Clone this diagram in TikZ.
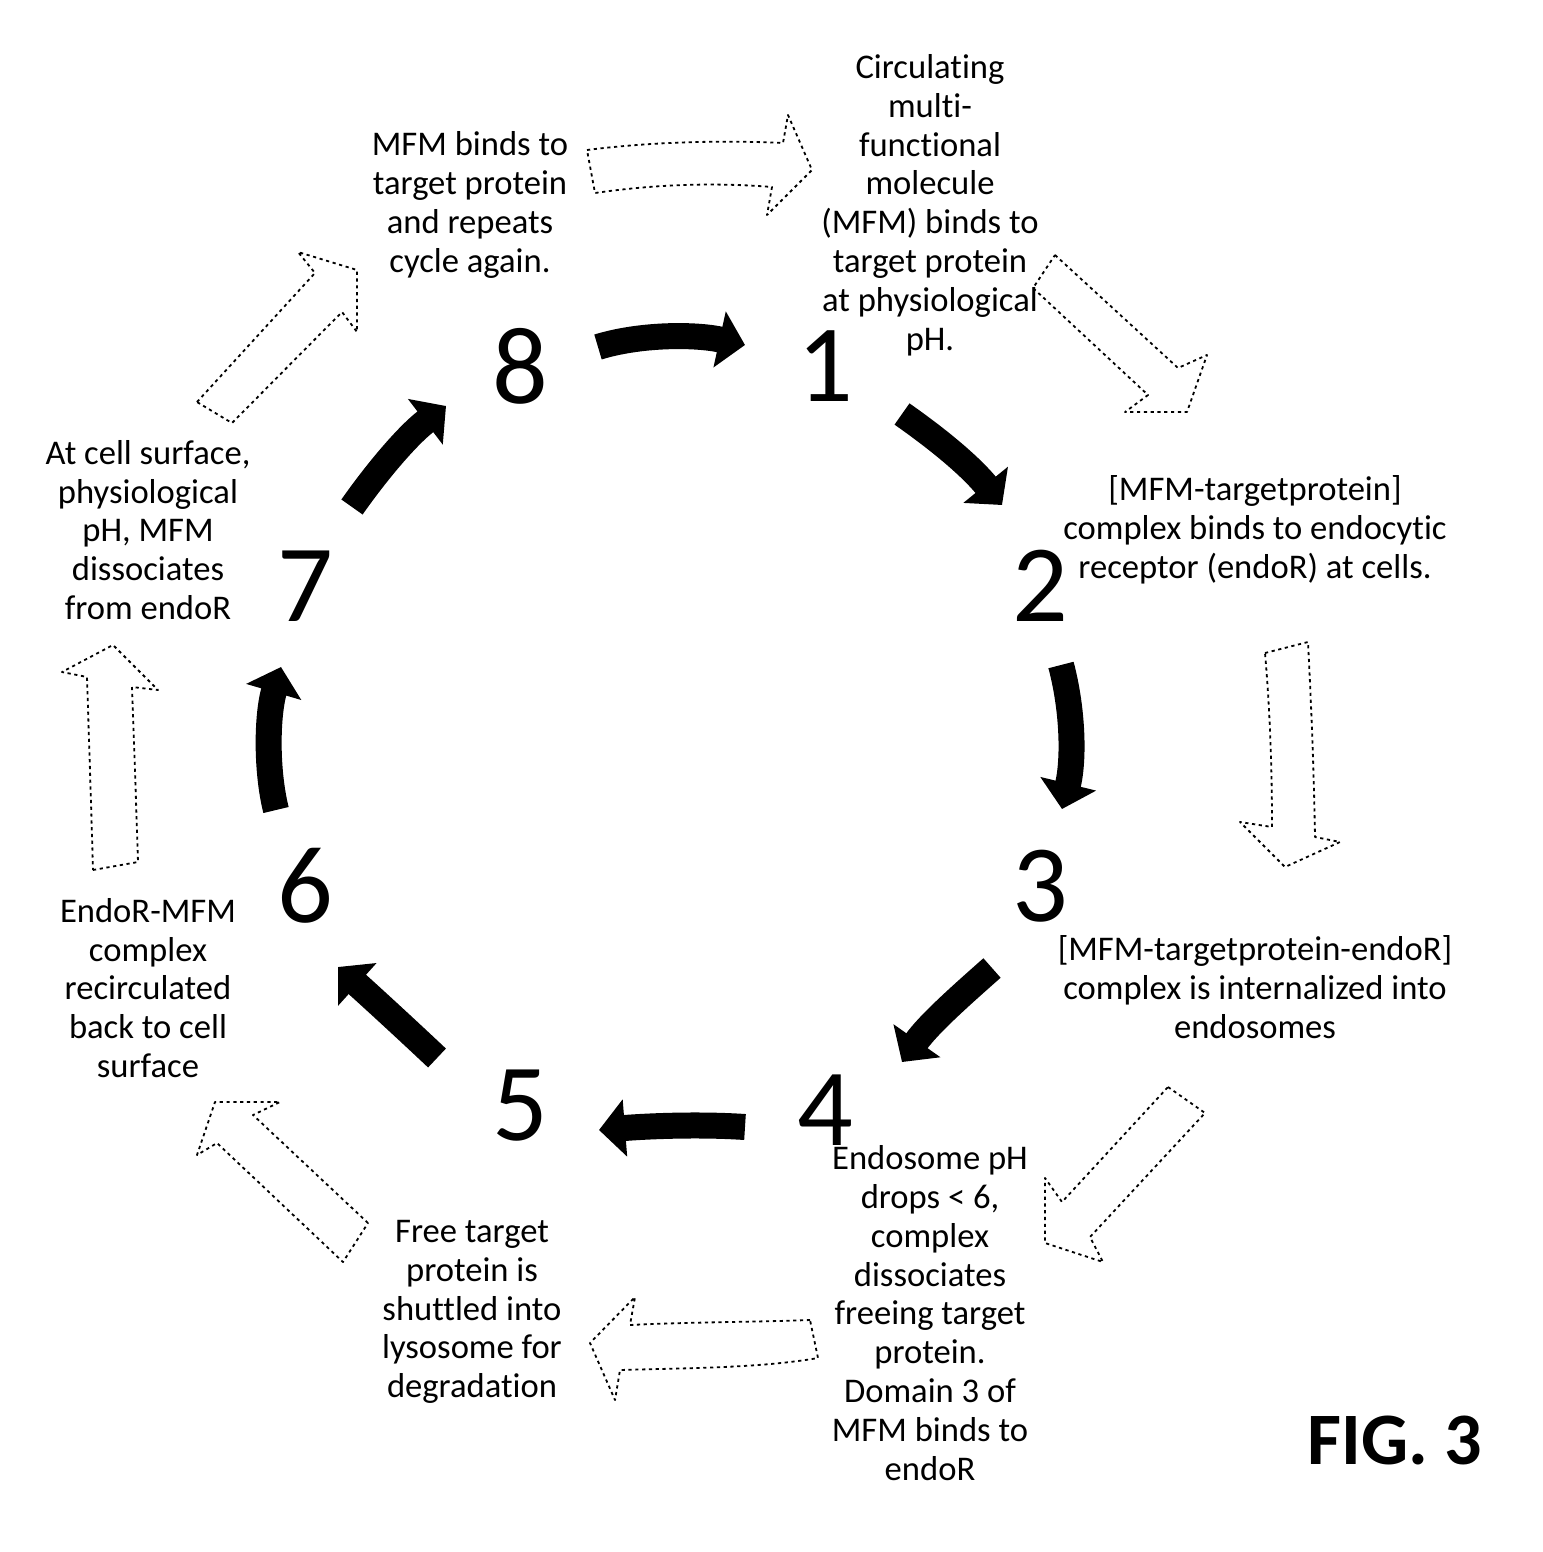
\documentclass[tikz,border=0pt]{standalone}
\usepackage{fontspec}
\setmainfont{Carlito}[Ligatures={NoCommon}]
\usetikzlibrary{arrows.meta}
\begin{document}
\begin{tikzpicture}[x=0.5pt,y=-0.5pt,
  txt/.style={font=\fontsize{17.3}{19.4}\selectfont, align=center, inner sep=0pt},
  num/.style={font=\fontsize{55}{60}\selectfont, inner sep=0pt},
  blk/.style={line width=13pt, -{Triangle[length=13pt,width=28pt]}},
  hol/.style={line width=0.9pt, dash pattern=on 1.6pt off 1.8pt, line join=round}]
\useasboundingbox[fill=white] (0,0) rectangle (1542,1552);

% texts
\node[txt] (t1) at (930,205) {Circulating\\multi-\\functional\\molecule\\(MFM) binds to\\target protein\\at physiological\\pH.};
\node[txt] (t8) at (470,205) {MFM binds to\\target protein\\and repeats\\cycle again.};
\node[txt] (t2) at (1255,530) {[MFM-targetprotein]\\complex binds to endocytic\\receptor (endoR) at cells.};
\node[txt] (t3) at (1255,987) {[MFM-targetprotein-endoR]\\complex is internalized into\\endosomes};
\node[txt] (t4) at (930,1313) {Endosome pH\\drops < 6,\\complex\\dissociates\\freeing target\\protein.\\Domain 3 of\\MFM binds to\\endoR};
\node[txt] (t5) at (472,1312) {Free target\\protein is\\shuttled into\\lysosome for\\degradation};
\node[txt] (t6) at (148,988) {EndoR-MFM\\complex\\recirculated\\back to cell\\surface};
\node[txt] (t7) at (148,530) {At cell surface,\\physiological\\pH, MFM\\dissociates\\from endoR};

% numbers
\node[num] (n8) at (520,366) {8};
\node[num] (n1) at (825,366) {1};
\node[num] (n2) at (1040,586) {2};
\node[num] (n3) at (1040,886) {3};
\node[num] (n4) at (825,1110) {4};
\node[num] (n5) at (520,1106) {5};
\node[num] (n6) at (305,886) {6};
\node[num] (n7) at (305,586) {7};

\node[font=\fontsize{37}{40}\selectfont\bfseries, inner sep=0pt] (fig) at (1395,1440) {FIG. 3};

% black arrows
\coordinate (a81s) at (598,347); \coordinate (a81e) at (745,345);
\coordinate (a12s) at (902,414); \coordinate (a12e) at (1002,505);
\coordinate (a23s) at (1061,665); \coordinate (a23e) at (1062,809);
\coordinate (a34s) at (992,968); \coordinate (a34e) at (902,1062);
\coordinate (a45s) at (745,1127); \coordinate (a45e) at (599,1130);
\coordinate (a56s) at (437,1058); \coordinate (a56e) at (338,967);
\coordinate (a67s) at (276,810); \coordinate (a67e) at (281,667);
\coordinate (a78s) at (352,507); \coordinate (a78e) at (446,406);

\draw[blk] (a81s) .. controls (640,334) and (695,334) .. (a81e);
\draw[blk] (a12s) .. controls (942,442) and (972,468) .. (a12e);
\draw[blk] (a23s) .. controls (1073,710) and (1074,760) .. (a23e);
\draw[blk] (a34s) .. controls (958,998) and (928,1025) .. (a34e);
\draw[blk] (a45s) .. controls (700,1124) and (650,1126) .. (a45e);
\draw[blk] (a56s) .. controls (402,1025) and (368,994) .. (a56e);
\draw[blk] (a67s) .. controls (266,770) and (267,715) .. (a67e);
\draw[blk] (a78s) .. controls (378,470) and (408,435) .. (a78e);

% hollow dotted arrows
% top: 8 text -> 1 text
\draw[hol] (587,150) .. controls (650,142) and (720,140) .. (783,143) -- (788,115) -- (812,170) -- (767,215) -- (772,187)
  .. controls (710,182) and (650,185) .. (595,193) -- cycle;
% upper right
\draw[hol] (1055,255) -- (1178,368) -- (1207,355) -- (1187,412) -- (1125,412) -- (1148,395) -- (1033,288) -- cycle;
% right
\draw[hol] (1265,653) -- (1308,642) .. controls (1312,720) and (1314,780) .. (1315,837) -- (1340,842) -- (1285,867) -- (1240,822) -- (1272,827)
  .. controls (1272,770) and (1270,710) .. (1265,653);
% lower right
\draw[hol] (1168,1087) -- (1205,1113) -- (1090,1237) -- (1103,1262) -- (1045,1243) -- (1045,1178) -- (1062,1202) -- cycle;
% bottom
\draw[hol] (810,1320) .. controls (760,1322) and (690,1322) .. (630,1325) -- (635,1297) -- (590,1343) -- (615,1400) -- (620,1370)
  .. controls (690,1368) and (760,1368) .. (818,1358) -- cycle;
% lower left
\draw[hol] (368,1223) -- (253,1115) -- (280,1102) -- (215,1102) -- (197,1155) -- (217,1143) -- (343,1262) -- cycle;
% left
\draw[hol] (93,870) -- (138,862) .. controls (136,800) and (134,740) .. (132,687) -- (158,690) -- (113,645) -- (62,672) -- (87,677)
  .. controls (89,740) and (91,800) .. (93,870);
% upper left
\draw[hol] (197,402) -- (315,273) -- (298,252) -- (357,270) -- (357,332) -- (342,312) -- (232,423) -- cycle;
\end{tikzpicture}
\end{document}
